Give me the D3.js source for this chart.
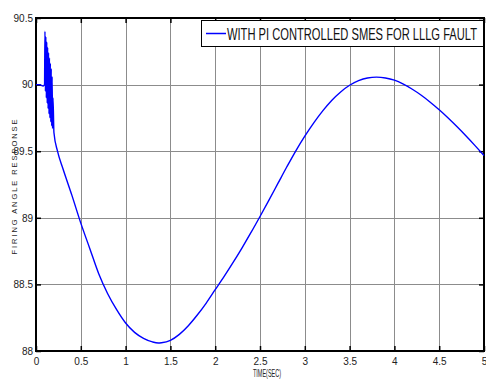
<!DOCTYPE html>
<html lang="en">
<head>
  <meta charset="UTF-8">
  <title>Firing angle response</title>
  <script src="https://d3js.org/d3.v7.min.js"></script>
  <style>
    body { margin: 0; padding: 0; background: #fff; }
    svg { display: block; }
    .tick text { font-family: "Liberation Sans Narrow", "Arial Narrow", "Liberation Sans", sans-serif; font-size: 10px; fill: #222; }
  </style>
</head>
<body>
  <div id="chart"></div>
  <script>
    // data
    const timeSec = [0, 0.04, 0.08, 0.095, 0.10, 0.105, 0.11, 0.115, 0.12, 0.125, 0.13, 0.135, 0.14, 0.145,
      0.15, 0.155, 0.16, 0.165, 0.17, 0.175, 0.18, 0.185, 0.19, 0.2,
      0.24, 0.3, 0.4, 0.5, 0.6, 0.7, 0.8, 0.9, 1.0, 1.1, 1.2, 1.3, 1.365, 1.4, 1.5, 1.6, 1.7, 1.8, 1.9,
      2.0, 2.1, 2.2, 2.3, 2.4, 2.5, 2.6, 2.7, 2.8, 2.9, 3.0, 3.1, 3.2, 3.3, 3.4, 3.5, 3.6, 3.7, 3.8,
      3.9, 4.0, 4.1, 4.2, 4.3, 4.4, 4.5, 4.6, 4.7, 4.8, 4.9, 5.0];
    const firingAngle = [90.0, 90.0, 89.99, 90.0, 90.40, 89.95, 90.36, 89.9, 90.32, 89.86, 90.28, 89.82, 90.24, 89.78,
      90.2, 89.75, 90.16, 89.72, 90.12, 89.69, 90.06, 89.67, 89.9, 89.64,
      89.5, 89.37, 89.17, 88.96, 88.77, 88.58, 88.43, 88.31, 88.21, 88.14, 88.095, 88.068, 88.06, 88.062, 88.08, 88.125, 88.19, 88.27, 88.36,
      88.46, 88.56, 88.665, 88.775, 88.89, 89.01, 89.133, 89.258, 89.383, 89.503, 89.613, 89.713, 89.803, 89.881, 89.945, 89.995, 90.03, 90.05, 90.056,
      90.05, 90.033, 90.003, 89.965, 89.92, 89.868, 89.811, 89.749, 89.683, 89.614, 89.542, 89.468];
    const xTicks = [0, 0.5, 1, 1.5, 2, 2.5, 3, 3.5, 4, 4.5, 5];
    const yTicks = [88, 88.5, 89, 89.5, 90, 90.5];
    const legendLabel = "WITH PI CONTROLLED SMES FOR LLLG FAULT";

    const width = 486, height = 379;
    const margin = { top: 18, right: 2, bottom: 28, left: 36 };

    const x = d3.scaleLinear().domain([0, 5]).range([margin.left, width - margin.right]);
    const y = d3.scaleLinear().domain([88, 90.5]).range([height - margin.bottom, margin.top]);

    const svg = d3.create("svg")
      .attr("width", width)
      .attr("height", height)
      .attr("viewBox", [0, 0, width, height]);

    svg.append("rect").attr("width", width).attr("height", height).attr("fill", "#fff");

    // grid
    const grid = svg.append("g").attr("stroke", "#8c8c8c").attr("stroke-width", 1);
    grid.selectAll("line.gx")
      .data(xTicks.slice(1, -1))
      .join("line")
      .attr("x1", d => Math.round(x(d)) + 0.5).attr("x2", d => Math.round(x(d)) + 0.5)
      .attr("y1", y(90.5)).attr("y2", y(88));
    grid.selectAll("line.gy")
      .data(yTicks.slice(1, -1))
      .join("line")
      .attr("y1", d => Math.round(y(d)) + 0.5).attr("y2", d => Math.round(y(d)) + 0.5)
      .attr("x1", x(0)).attr("x2", x(5));

    // axes with inward ticks
    svg.append("g")
      .attr("transform", `translate(0,${y(88)})`)
      .call(d3.axisBottom(x).tickValues(xTicks).tickFormat(d3.format("")).tickSize(-5).tickPadding(7));
    svg.append("g")
      .attr("transform", `translate(${x(0)},0)`)
      .call(d3.axisLeft(y).tickValues(yTicks).tickFormat(d3.format("")).tickSize(-5).tickPadding(3));
    svg.append("g")
      .attr("transform", `translate(0,${y(90.5)})`)
      .call(d3.axisTop(x).tickValues(xTicks).tickFormat("").tickSize(-5));
    svg.append("g")
      .attr("transform", `translate(${x(5)},0)`)
      .call(d3.axisRight(y).tickValues(yTicks).tickFormat("").tickSize(-5));
    svg.selectAll(".domain").remove();
    svg.selectAll(".tick line").attr("stroke", "#000").attr("stroke-width", 1.5);

    // frame
    svg.append("rect")
      .attr("x", x(0)).attr("y", y(90.5))
      .attr("width", x(5) - x(0)).attr("height", y(88) - y(90.5))
      .attr("fill", "none").attr("stroke", "#000").attr("stroke-width", 2);

    // response curve
    const line = d3.line().curve(d3.curveMonotoneX).x(d => x(d[0])).y(d => y(d[1]));
    svg.append("path")
      .datum(d3.zip(timeSec, firingAngle))
      .attr("fill", "none")
      .attr("stroke", "#0000ff")
      .attr("stroke-width", 1.4)
      .attr("stroke-linejoin", "round")
      .attr("d", line);

    // legend
    const legend = svg.append("g").attr("transform", "translate(201,20)");
    legend.append("rect")
      .attr("x", 0.5).attr("y", 0.5).attr("width", 282).attr("height", 26)
      .attr("fill", "#fff").attr("stroke", "#000").attr("stroke-width", 1);
    legend.append("line")
      .attr("x1", 5).attr("x2", 25).attr("y1", 13.5).attr("y2", 13.5)
      .attr("stroke", "#0000ff").attr("stroke-width", 1.5);
    legend.append("text")
      .attr("x", 26).attr("y", 20)
      .attr("font-family", "'Liberation Sans Narrow', 'Arial Narrow', 'Liberation Sans', sans-serif")
      .attr("font-size", 16.5)
      .attr("fill", "#111")
      .attr("textLength", 250)
      .attr("lengthAdjust", "spacingAndGlyphs")
      .text(legendLabel);

    // axis titles
    svg.append("text")
      .attr("x", 267).attr("y", 377)
      .attr("text-anchor", "middle")
      .attr("font-family", "'Liberation Sans Narrow', 'Arial Narrow', 'Liberation Sans', sans-serif")
      .attr("font-size", 10.5)
      .attr("fill", "#222")
      .attr("textLength", 28)
      .attr("lengthAdjust", "spacingAndGlyphs")
      .text("TIME(SEC)");
    svg.append("text")
      .attr("transform", "translate(17,187) rotate(-90)")
      .attr("text-anchor", "middle")
      .attr("font-family", "'Liberation Sans', Arial, sans-serif")
      .attr("font-size", 7.5)
      .attr("fill", "#222")
      .attr("textLength", 135)
      .attr("lengthAdjust", "spacing")
      .text("FIRING ANGLE RESPONSE");

    document.getElementById("chart").appendChild(svg.node());
  </script>
</body>
</html>
